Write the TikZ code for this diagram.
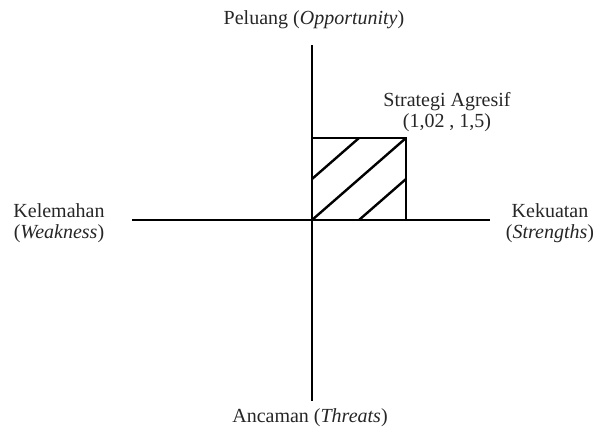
\documentclass[tikz,border=0pt]{standalone}
\usepackage{fontspec}
\setmainfont{Liberation Serif}
\begin{document}
\begin{tikzpicture}[x=1pt,y=-1pt,
  axis/.style={line width=2.6pt},
  box/.style={line width=2pt},
  hatch/.style={line width=2.4pt},
  lbl/.style={font=\fontsize{20}{21}\selectfont, inner sep=0pt, align=center, text=black!85}]
\useasboundingbox (0,0) rectangle (605,429);
% axes
\coordinate (top) at (312,45);
\coordinate (bot) at (312,401);
\coordinate (lft) at (132,220);
\coordinate (rgt) at (490,220);
\draw[axis] (top) -- (bot);
\draw[axis] (lft) -- (rgt);
% box
\coordinate (o) at (312,220);
\coordinate (c) at (406,138);
\coordinate (ml) at (312,179);
\coordinate (mt) at (359,138);
\coordinate (mb) at (359,220);
\coordinate (mr) at (406,179);
\draw[box] (o) rectangle (c);
\draw[hatch] (ml) -- (mt);
\draw[hatch] (o) -- (c);
\draw[hatch] (mb) -- (mr);
% labels
\node[lbl] (op) at (314,20) {Peluang (\textit{Opportunity})};
\node[lbl] (th) at (310,418) {Ancaman (\textit{Threats})};
\node[lbl] (wk) at (59,223) {Kelemahan\\(\textit{Weakness})};
\node[lbl] (st) at (550,223) {Kekuatan\\(\textit{Strengths})};
\node[lbl] (sa) at (447,112) {Strategi Agresif\\(1,02 , 1,5)};
\end{tikzpicture}
\end{document}
